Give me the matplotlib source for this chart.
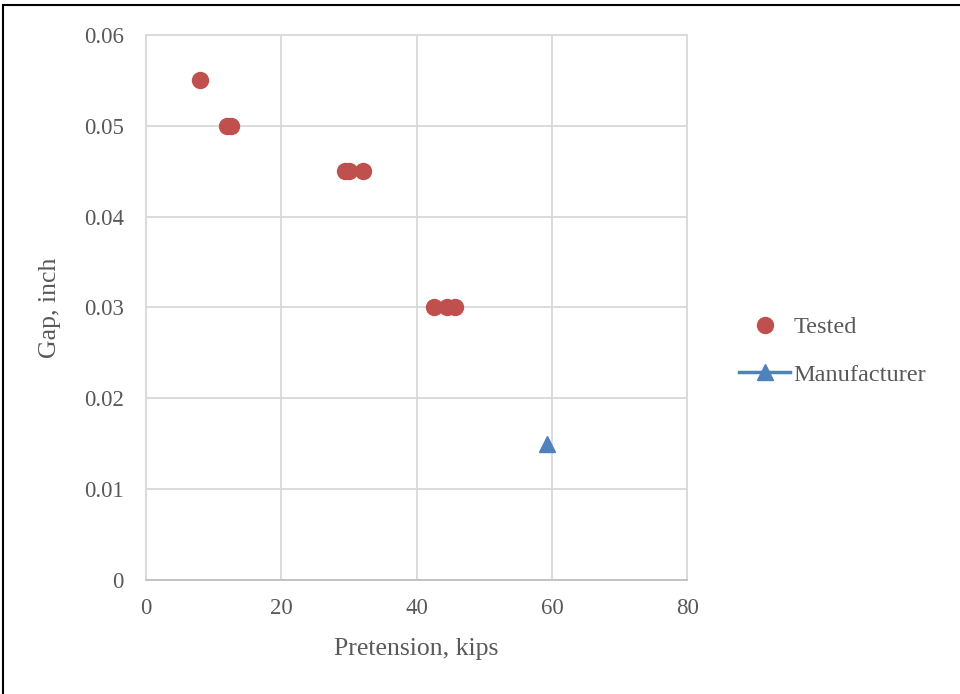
import matplotlib.pyplot as plt
from matplotlib.patches import Rectangle

# data
tested_x = [8.0, 12.0, 12.6, 29.4, 30.0, 32.1, 42.5, 44.5, 45.6]
tested_y = [0.055, 0.05, 0.05, 0.045, 0.045, 0.045, 0.03, 0.03, 0.03]
manuf_x = [59.3]
manuf_y = [0.015]
x_ticks = [0, 20, 40, 60, 80]
y_ticks = [0, 0.01, 0.02, 0.03, 0.04, 0.05, 0.06]

plt.rcParams['font.family'] = ['Liberation Serif', 'DejaVu Serif']
grey_txt = '#595959'
grid_col = '#d9d9d9'

fig = plt.figure(figsize=(9.6, 6.94), dpi=100)
ax = fig.add_axes([0.152, 0.1643, 0.564, 0.7853])

ax.plot(tested_x, tested_y, linestyle='none', marker='o', markersize=11.5,
        color='#C0504D', label='Tested', zorder=3)
ax.plot(manuf_x, manuf_y, linestyle='-', linewidth=2.5, marker='^',
        markersize=11, color='#4F81BD', label='Manufacturer', zorder=3)

ax.set_xlim(0, 80)
ax.set_ylim(0, 0.06)
ax.set_xticks(x_ticks)
ax.set_yticks(y_ticks)
ax.set_xticklabels([str(t) for t in x_ticks])
ax.set_yticklabels(['0', '0.01', '0.02', '0.03', '0.04', '0.05', '0.06'])
ax.grid(True, color=grid_col, linewidth=1.3)
ax.set_axisbelow(True)
for s in ax.spines.values():
    s.set_color(grid_col)
    s.set_linewidth(1.3)
ax.spines['bottom'].set_color('#bfbfbf')
ax.tick_params(axis='y', length=0, labelsize=16.5, labelcolor=grey_txt, pad=16)
ax.tick_params(axis='x', length=0, labelsize=16.5, labelcolor=grey_txt, pad=13)

ax.set_xlabel('Pretension, kips', fontsize=18.5, color=grey_txt, labelpad=14)
ax.set_ylabel('Gap, inch', fontsize=18.5, color=grey_txt, labelpad=16)

leg = ax.legend(loc='center left', bbox_to_anchor=(1.055, 0.42), frameon=False,
                fontsize=17.5, labelcolor=grey_txt, handlelength=2.1,
                labelspacing=1.05, handletextpad=0.15)

# chart border
fig.patches.append(Rectangle((3 / 960, -0.01), 1.0, 1 - 5 / 694 + 0.01,
                             transform=fig.transFigure, fill=False,
                             edgecolor='black', linewidth=1.5))

fig.savefig('out.png', dpi=100)
